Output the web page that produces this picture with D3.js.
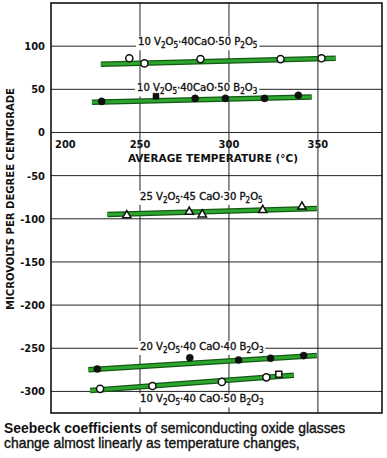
<!DOCTYPE html>
<html lang="en">
	<head>
		<meta charset="utf-8">
		<title>Seebeck coefficients</title>
		<script src="https://d3js.org/d3.v7.min.js"></script>
		<style type="text/css">
			body{margin:0; background:#fff;}
			.tick-lab{font-family:"DejaVu Sans Condensed", "DejaVu Sans", sans-serif; font-weight:bold; font-size:11px; fill:#111;}
			.ser-lab{font-family:"DejaVu Sans Condensed", "DejaVu Sans", sans-serif; font-size:11.2px; fill:#111; stroke:#111; stroke-width:0.35px;}
			.caption{font-family:"Liberation Sans", Arial, sans-serif; font-size:13.9px; fill:#111;}
		</style>
	</head>
	<body>
		<script type="text/javascript">

			// x ticks, y ticks
			var xTicks = [200, 250, 300, 350];
			var yTicks = [100, 50, 0, -50, -100, -150, -200, -250, -300];

			// series: points, plus fitted line end points
			var names = ["p2o5_10", "b2o3_10", "p2o5_25", "b2o3_20", "b2o3_10b"];
			var labels = [
				[["10 V", ""], ["2", "s"], ["O", ""], ["5", "s"], ["\u00b740CaO\u00b750 P", ""], ["2", "s"], ["O", ""], ["5", "s"]],
				[["10 V", ""], ["2", "s"], ["O", ""], ["5", "s"], ["\u00b740CaO\u00b750 B", ""], ["2", "s"], ["O", ""], ["3", "s"]],
				[["25 V", ""], ["2", "s"], ["O", ""], ["5", "s"], ["\u00b745 CaO\u00b730 P", ""], ["2", "s"], ["O", ""], ["5", "s"]],
				[["20 V", ""], ["2", "s"], ["O", ""], ["5", "s"], ["\u00b740 CaO\u00b740 B", ""], ["2", "s"], ["O", ""], ["3", "s"]],
				[["10 V", ""], ["2", "s"], ["O", ""], ["5", "s"], ["\u00b740 CaO\u00b750 B", ""], ["2", "s"], ["O", ""], ["3", "s"]]
			];
			var labelPos = [[138, 101], [137, 47.5], [140, -78], [140, -252], [140, -312.7]];

			var temps = [
				[244, 252.5, 284, 329, 352],
				[228.5, 259, 281, 298, 320, 339],
				[242.6, 277.7, 285, 319, 341],
				[226, 278, 305.4, 323.4, 342],
				[227.6, 257, 296, 321, 328]
			];
			var seebeck = [
				[86, 80, 85, 85, 86],
				[36, 42, 39.5, 39.5, 39.5, 43],
				[-96, -92, -95, -90, -86],
				[-274, -261, -263.6, -261.6, -258.5],
				[-297, -293.7, -289, -283.7, -280]
			];
			// marker per point: c = open circle, f = filled circle, s = filled square, o = open square, t = open triangle
			var markers = [
				["c", "c", "c", "c", "c"],
				["f", "s", "f", "f", "f", "f"],
				["t", "t", "t", "t", "t"],
				["f", "f", "f", "f", "f"],
				["c", "c", "c", "c", "o"]
			];
			var fitX = [[228, 360], [223, 346.5], [231.7, 349.4], [221, 349.4], [222, 336.5]];
			var fitY = [[79, 86], [35, 41], [-95, -88], [-275, -258.5], [-298.8, -281.4]];

			var W = 387, H = 458;
			var margin = {top: 3, left: 51, right: 5, bottom: 45};

			var svg = d3.select("body")
						.append("svg")
						.attr("width", W)
						.attr("height", H);

			var x = d3.scaleLinear().domain([200, 386]).range([margin.left, W - margin.right]);
			var y = d3.scaleLinear().domain([150, -325]).range([margin.top, H - margin.bottom]);

			// grid lines
			svg.append("g")
				.selectAll("line")
				.data(xTicks.slice(1))
				.enter().append("line")
				.attr("x1", function(d){ return x(d); })
				.attr("x2", function(d){ return x(d); })
				.attr("y1", y(150)).attr("y2", y(-325))
				.attr("stroke", "#222").attr("stroke-width", 1);

			svg.append("g")
				.selectAll("line")
				.data(yTicks)
				.enter().append("line")
				.attr("x1", x(200)).attr("x2", x(386))
				.attr("y1", function(d){ return y(d); })
				.attr("y2", function(d){ return y(d); })
				.attr("stroke", "#222").attr("stroke-width", 1);

			// frame
			svg.append("rect")
				.attr("x", x(200)).attr("y", y(150))
				.attr("width", x(386) - x(200)).attr("height", y(-325) - y(150))
				.attr("fill", "none").attr("stroke", "#111").attr("stroke-width", 1.6);

			// layers: label backgrounds under the lines and markers
			var bgLayer = svg.append("g");
			var lineLayer = svg.append("g");
			var markLayer = svg.append("g");
			var labLayer = svg.append("g");

			// y tick labels
			svg.append("g")
				.selectAll("text")
				.data(yTicks)
				.enter().append("text")
				.attr("class", "tick-lab")
				.attr("x", x(200) - 6)
				.attr("y", function(d){ return y(d) + 4; })
				.attr("text-anchor", "end")
				.text(function(d){ return d < 0 ? "-" + Math.abs(d) : d; });

			// x tick labels sit just below the zero line
			svg.append("g")
				.selectAll("text")
				.data(xTicks)
				.enter().append("text")
				.attr("class", "tick-lab")
				.attr("x", function(d){ return d === 200 ? x(d) + 4 : x(d); })
				.attr("y", y(0) + 16)
				.attr("text-anchor", function(d){ return d === 200 ? "start" : "middle"; })
				.text(function(d){ return d; });

			svg.append("text")
				.attr("class", "tick-lab")
				.attr("x", x(291))
				.attr("y", y(0) + 30)
				.attr("text-anchor", "middle")
				.attr("font-size", "11px")
				.attr("textLength", 170)
				.attr("lengthAdjust", "spacingAndGlyphs")
				.text("AVERAGE TEMPERATURE (\u00b0C)");

			svg.append("text")
				.attr("class", "tick-lab")
				.attr("transform", "translate(14," + 199 + ") rotate(-90)")
				.attr("text-anchor", "middle")
				.attr("font-size", "11px")
				.attr("textLength", 222)
				.attr("lengthAdjust", "spacingAndGlyphs")
				.text("MICROVOLTS PER DEGREE CENTIGRADE");

			// fitted green lines
			names.forEach(function(n, i){
				lineLayer.append("line")
					.attr("x1", x(fitX[i][0])).attr("y1", y(fitY[i][0]))
					.attr("x2", x(fitX[i][1])).attr("y2", y(fitY[i][1]))
					.attr("stroke", "#125a12").attr("stroke-width", 5.5);
				lineLayer.append("line")
					.attr("x1", x(fitX[i][0])).attr("y1", y(fitY[i][0]))
					.attr("x2", x(fitX[i][1])).attr("y2", y(fitY[i][1]))
					.attr("stroke", "#2ea52e").attr("stroke-width", 3);
			});

			// markers
			names.forEach(function(n, i){
				var pts = temps[i].map(function(t, j){ return {t: t, v: seebeck[i][j], m: markers[i][j]}; });
				markLayer.append("g").attr("class", n)
					.selectAll("path")
					.data(pts)
					.enter().append("path")
					.attr("transform", function(d){ return "translate(" + x(d.t) + "," + y(d.v) + ")"; })
					.attr("d", function(d){
						if (d.m === "t") return d3.symbol().type(d3.symbolTriangle).size(30)();
						if (d.m === "s" || d.m === "o") return d3.symbol().type(d3.symbolSquare).size(36)();
						return d3.symbol().type(d3.symbolCircle).size(40)();
					})
					.attr("fill", function(d){ return (d.m === "f" || d.m === "s") ? "#111" : "#fff"; })
					.attr("stroke", "#111")
					.attr("stroke-width", function(d){ return (d.m === "f" || d.m === "s") ? 0.5 : 1.5; });
			});

			// series labels with subscripts
			labels.forEach(function(parts, i){
				var t = labLayer.append("text")
					.attr("class", "ser-lab")
					.attr("x", labelPos[i][0])
					.attr("y", y(labelPos[i][1]));
				parts.forEach(function(p, k){
					var prev = k > 0 ? parts[k - 1][1] : "";
					var ts = t.append("tspan").text(p[0]);
					var dy = 0;
					if (p[1] === "s" && prev !== "s") dy = 3;
					if (p[1] !== "s" && prev === "s") dy = -3;
					ts.attr("dy", dy);
					if (p[1] === "s") ts.attr("font-size", "8px");
				});
				var bbox = t.node().getBBox();
				bgLayer.append("rect")
					.attr("x", bbox.x - 2).attr("y", bbox.y + 1)
					.attr("width", bbox.width + 4).attr("height", bbox.height - 1)
					.attr("fill", "#fff");
			});

			// caption
			var l1 = svg.append("text").attr("class", "caption").attr("x", 4).attr("y", 433);
			l1.append("tspan").attr("font-weight", "bold").text("Seebeck coefficients");
			l1.append("tspan").attr("stroke", "#111").attr("stroke-width", 0.35).text(" of semiconducting oxide glasses");
			svg.append("text").attr("class", "caption").attr("x", 4).attr("y", 448)
				.attr("stroke", "#111").attr("stroke-width", 0.35)
				.text("change almost linearly as temperature changes,");

		</script>
	</body>
</html>
